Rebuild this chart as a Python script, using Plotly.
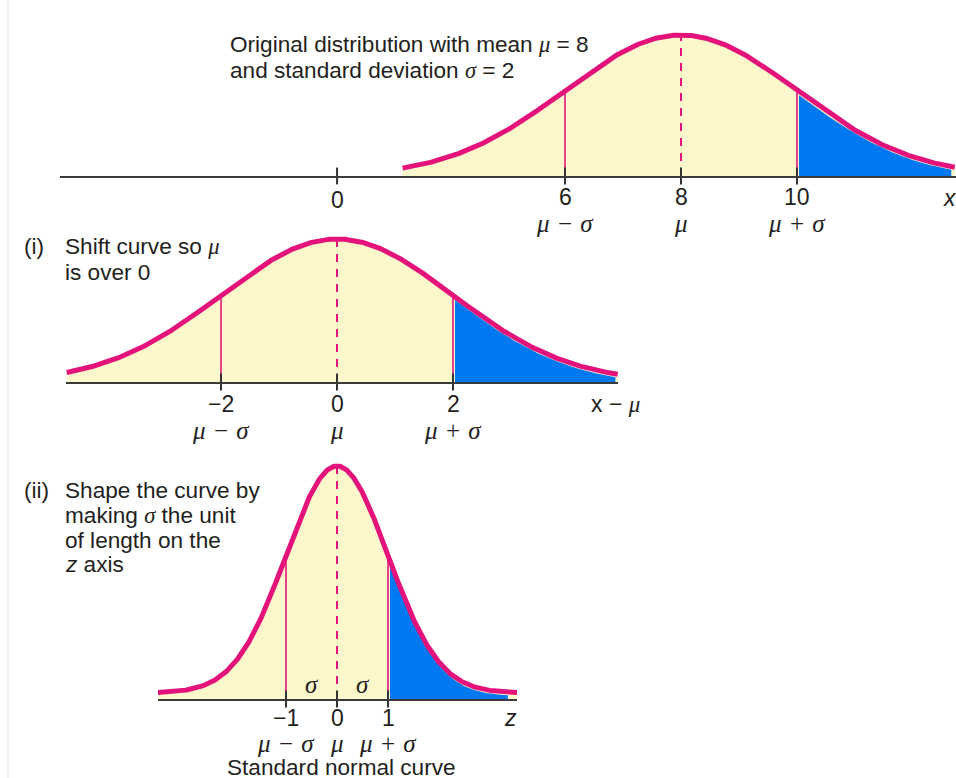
import numpy as np
import plotly.graph_objects as go

W, H = 956, 778

# --- data -----------------------------------------------------------------
# panel 1: x, panel 2: x - mu, panel 3: z
PANEL_CENTER = [8, 0, 0]          # where the mean sits on each axis
PANEL_SD = [2, 2, 1]              # one sigma in axis units
CURVE_LO = [3.2, -4.66, -3.53]    # drawn extent of each curve (axis units)
CURVE_HI = [12.72, 4.84, 3.53]
TAIL_LIFT = [0.0, 0.0, 0.026]     # panel 3 tails stay a hair above the axis
BLUE_HI = [12.66, 4.80, 3.35]

TICKS = [[6, 8, 10], [-2, 0, 2], [-1, 0, 1]]
TICK_TEXT = [["6", "8", "10"], ["−2", "0", "2"], ["−1", "0", "1"]]
TICK_GREEK = ["μ − σ", "μ", "μ + σ"]
ORIGIN_TOP = 2.07                 # the top sketch puts its 0 off scale
AXIS_NAME = ["<i>x</i>", "x − <i>μ</i>", "<i>z</i>"]

# --- layout geometry (pixels) ------------------------------------------------
MEAN_PX = [681, 337, 337]
PX_PER_UNIT = [58, 58, 51]
AXIS_LEFT_PX = [60, 66, 158]
AXIS_RIGHT_PX = [956, 618, 517]
BASE_PX = [176, 382, 699]
PEAK_PX = [35, 239, 466]
NUM_Y_PX = [197, 404, 718]
GREEK_Y_PX = [223, 430, 743]
NAME_XY_PX = [(950, 198), (615, 404), (511, 718)]
YTOP = 1.08

MAGENTA = "#e3137b"
YELLOW = "#fdf8cb"
BLUE = "#0078f0"
INK = "#231f20"
SANS = "Liberation Sans"
SERIF = "Liberation Serif"


def serif(s):
    # italic greek letters, upright operators with a little math spacing
    s = s.replace(" − ", " \u200a−\u200a ").replace(" + ", " \u200a+\u200a ")
    for g in ("μ", "σ"):
        s = s.replace(g, f"<i>{g}</i>")
    return f'<span style="font-family:{SERIF}">{s}</span>'


def px(p):
    return p / W


def py(p):
    return 1 - p / H


fig = go.Figure()
annotations = []

for i in range(3):
    n = "" if i == 0 else str(i + 1)
    xa, ya = "x" + n, "y" + n
    c, sd, ppu = PANEL_CENTER[i], PANEL_SD[i], PX_PER_UNIT[i]
    lift = TAIL_LIFT[i]
    hpx = BASE_PX[i] - PEAK_PX[i]

    def f(u):
        z = (np.asarray(u) - c) / sd
        return lift + (1 - lift) * np.exp(-z ** 2 / 2)

    u = np.linspace(CURVE_LO[i], CURVE_HI[i], 500)
    y = f(u)

    fig.add_trace(go.Scatter(x=u, y=y, xaxis=xa, yaxis=ya, mode="lines",
                             line=dict(width=0), fill="tozeroy",
                             fillcolor=YELLOW, hoverinfo="skip"))

    ub = np.linspace(c + sd + 2 / ppu, BLUE_HI[i], 300)
    yb = np.maximum(f(ub) - 3.2 / hpx, 0)
    fig.add_trace(go.Scatter(x=ub, y=yb, xaxis=xa, yaxis=ya, mode="lines",
                             line=dict(width=0), fill="tozeroy",
                             fillcolor=BLUE, hoverinfo="skip"))

    fig.add_trace(go.Scatter(x=[c - sd, c - sd, None, c + sd, c + sd],
                             y=[0, f(c - sd), None, 0, f(c + sd)],
                             xaxis=xa, yaxis=ya, mode="lines",
                             line=dict(color=MAGENTA, width=1.6),
                             hoverinfo="skip"))
    fig.add_trace(go.Scatter(x=[c, c], y=[0, 1], xaxis=xa, yaxis=ya,
                             mode="lines",
                             line=dict(color=MAGENTA, width=2, dash="8px,7px"),
                             hoverinfo="skip"))
    fig.add_trace(go.Scatter(x=u, y=y, xaxis=xa, yaxis=ya, mode="lines",
                             line=dict(color=MAGENTA, width=5),
                             hoverinfo="skip"))

    tks = list(TICKS[i]) + ([ORIGIN_TOP] if i == 0 else [])
    fig.add_trace(go.Scatter(x=tks, y=[0] * len(tks), xaxis=xa, yaxis=ya,
                             mode="markers", cliponaxis=False,
                             marker=dict(symbol="line-ns", size=12,
                                         line=dict(color="#333", width=2)),
                             hoverinfo="skip"))

    lo = c + (AXIS_LEFT_PX[i] - MEAN_PX[i]) / ppu
    hi = c + (AXIS_RIGHT_PX[i] - MEAN_PX[i]) / ppu
    fig.update_layout({
        "xaxis" + n: dict(domain=[px(AXIS_LEFT_PX[i]), px(AXIS_RIGHT_PX[i])],
                          range=[lo, hi], anchor=ya, showline=True,
                          linecolor="#3a3a3a", linewidth=2, showgrid=False,
                          zeroline=False, showticklabels=False, ticks=""),
        "yaxis" + n: dict(domain=[py(BASE_PX[i]),
                                  py(BASE_PX[i] - YTOP * hpx)],
                          range=[0, YTOP], anchor=xa, visible=False),
    })

    for v, t in zip(TICKS[i], TICK_TEXT[i]):
        annotations.append(dict(x=v, xref=xa, y=py(NUM_Y_PX[i]), yref="paper",
                                text=t, showarrow=False, xanchor="center",
                                yanchor="middle",
                                font=dict(family=SANS, size=23, color=INK)))
    for v, t in zip(TICKS[i], TICK_GREEK):
        annotations.append(dict(x=v, xref=xa, y=py(GREEK_Y_PX[i]), yref="paper",
                                text=serif(t), showarrow=False,
                                xanchor="center", yanchor="middle", height=29,
                                font=dict(family=SERIF, size=25, color=INK)))
    nx, ny = NAME_XY_PX[i]
    annotations.append(dict(x=px(nx), xref="paper", y=py(ny), yref="paper",
                            text=AXIS_NAME[i].replace("<i>μ</i>", serif("μ")),
                            showarrow=False, xanchor="center", yanchor="middle",
                            font=dict(family=SANS, size=23, color=INK)))

# origin label of the top axis
annotations.append(dict(x=ORIGIN_TOP, xref="x", y=py(200), yref="paper",
                        text="0", showarrow=False, xanchor="center",
                        yanchor="middle",
                        font=dict(family=SANS, size=23, color=INK)))

# sigma widths on the standard curve
for v in (-0.5, 0.5):
    annotations.append(dict(x=v, xref="x3", y=py(684), yref="paper",
                            text=serif("σ"), showarrow=False,
                            xanchor="center", yanchor="middle",
                            font=dict(family=SERIF, size=25, color=INK)))

# explanatory text
TEXT_LINES = [
    (228, 45, "Original distribution with mean " + serif("μ") + " = 8"),
    (228, 70, "and standard deviation " + serif("σ") + " = 2"),
    (22, 247, "(i)"),
    (63, 247, "Shift curve so " + serif("μ")),
    (63, 272, "is over 0"),
    (22, 490, "(ii)"),
    (63, 490, "Shape the curve by"),
    (63, 515, "making " + serif("σ") + " the unit"),
    (63, 540, "of length on the"),
    (63, 564, "<i>z</i> axis"),
]
for x, y, t in TEXT_LINES:
    annotations.append(dict(x=px(x), xref="paper", y=py(y), yref="paper",
                            text=t, showarrow=False, xanchor="left",
                            yanchor="middle",
                            font=dict(family=SANS, size=22.6, color=INK)))
annotations.append(dict(x=px(341), xref="paper", y=py(767), yref="paper",
                        text="Standard normal curve", showarrow=False,
                        xanchor="center", yanchor="middle", height=22,
                        font=dict(family=SANS, size=22.6, color=INK)))

fig.update_layout(
    width=W, height=H,
    margin=dict(l=0, r=0, t=0, b=0),
    paper_bgcolor="white", plot_bgcolor="rgba(0,0,0,0)",
    showlegend=False,
    annotations=annotations,
    shapes=[dict(type="line", xref="paper", yref="paper", x0=px(8), x1=px(8),
                 y0=0, y1=1, line=dict(color="#e2e2e2", width=1))],
)

# drop the default body margin so the figure fills the window exactly
fig.write_html(
    "out.html",
    config={"displayModeBar": False},
    post_script="document.body.style.margin='0';"
                "document.body.style.overflow='hidden';",
)
